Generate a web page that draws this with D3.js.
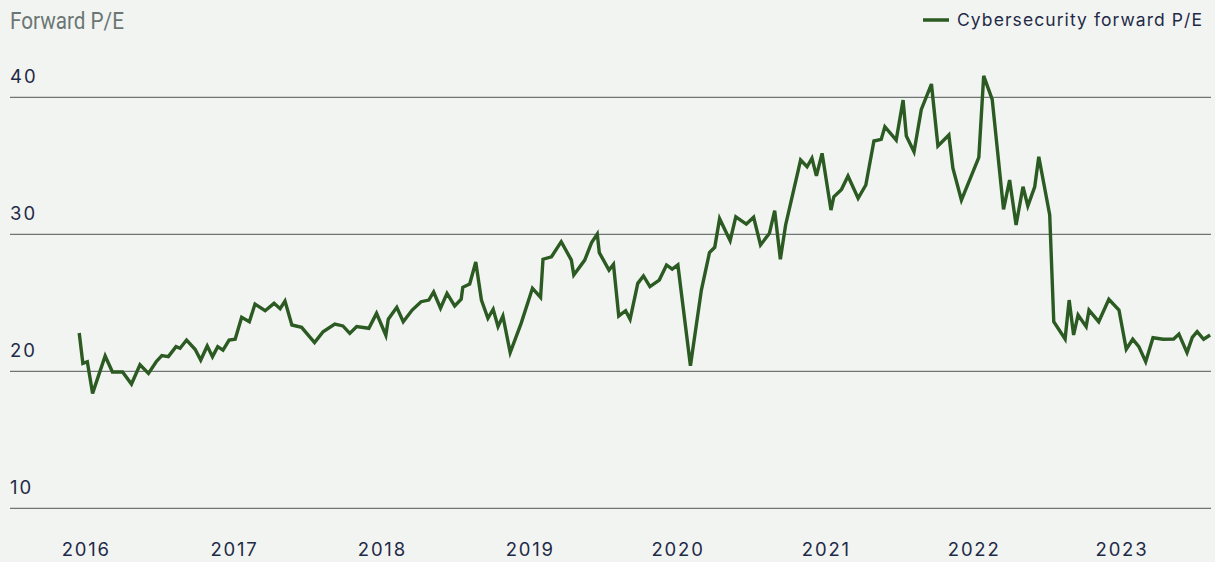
<html lang="en">
<head>
    <meta charset="UTF-8">
    <title>Cybersecurity forward P/E</title>
    <script src="https://d3js.org/d3.v7.min.js"></script>
    <style>
        body {
            margin: 0;
            background-color: #f2f4f1;
        }
        svg {
            display: block;
        }
    </style>
</head>
<body>
    <div id="chart"></div>
    <script>
        var dates = [
            "2015-12-17","2015-12-26","2016-01-06","2016-01-19","2016-02-19","2016-03-08","2016-04-02","2016-04-24",
            "2016-05-15","2016-06-05","2016-06-24","2016-07-08","2016-07-24","2016-08-12","2016-08-22","2016-09-07",
            "2016-09-28","2016-10-12","2016-10-28","2016-11-10","2016-11-23","2016-12-06","2016-12-21","2017-01-05",
            "2017-01-21","2017-02-09","2017-02-23","2017-03-20","2017-04-11","2017-04-26","2017-05-08","2017-05-25",
            "2017-06-18","2017-07-20","2017-08-10","2017-09-08","2017-09-28","2017-10-15","2017-11-01","2017-12-01",
            "2017-12-20","2018-01-12","2018-01-18","2018-02-08","2018-02-24","2018-03-18","2018-04-09","2018-04-28",
            "2018-05-10","2018-05-27","2018-06-12","2018-07-01","2018-07-17","2018-07-21","2018-08-07","2018-08-22",
            "2018-09-05","2018-09-21","2018-10-04","2018-10-16","2018-10-28","2018-11-15","2018-12-12","2019-01-09",
            "2019-01-29","2019-02-04","2019-02-25","2019-03-21","2019-04-15","2019-04-21","2019-05-18","2019-06-04",
            "2019-06-18","2019-06-23","2019-07-17","2019-07-28","2019-08-10","2019-08-27","2019-09-07","2019-09-26",
            "2019-10-10","2019-10-26","2019-11-18","2019-12-06","2019-12-20","2020-01-03","2020-02-03","2020-03-01",
            "2020-03-21","2020-04-03","2020-04-15","2020-05-11","2020-05-25","2020-06-20","2020-07-08","2020-07-25",
            "2020-08-16","2020-08-29","2020-09-12","2020-09-25","2020-10-13","2020-11-01","2020-11-17","2020-11-29",
            "2020-12-10","2020-12-24","2021-01-15","2021-01-22","2021-02-10","2021-02-26","2021-03-23","2021-04-11",
            "2021-05-01","2021-05-19","2021-05-28","2021-06-25","2021-07-12","2021-07-20","2021-08-08","2021-08-26",
            "2021-09-20","2021-10-06","2021-11-02","2021-11-12","2021-12-03","2022-01-15","2022-01-27","2022-02-17",
            "2022-03-17","2022-04-01","2022-04-17","2022-05-04","2022-05-16","2022-06-02","2022-06-12","2022-07-09",
            "2022-07-19","2022-08-16","2022-08-26","2022-09-06","2022-09-17","2022-10-07","2022-10-14","2022-11-07",
            "2022-12-02","2022-12-27","2023-01-14","2023-01-30","2023-02-14","2023-03-03","2023-03-21","2023-04-15",
            "2023-05-11","2023-05-24","2023-06-13","2023-06-26","2023-07-08","2023-07-24","2023-08-09"
        ];
        var forwardPE = [
            22.80,20.58,20.70,18.39,21.12,19.95,19.95,19.07,
            20.48,19.85,20.70,21.14,21.07,21.80,21.68,22.28,
            21.61,20.82,21.85,21.07,21.80,21.55,22.28,22.34,
            23.94,23.62,24.91,24.42,24.96,24.57,25.13,23.38,
            23.21,22.09,22.89,23.45,23.31,22.77,23.26,23.14,
            24.23,22.63,23.80,24.67,23.62,24.47,25.08,25.20,
            25.79,24.60,25.69,24.77,25.26,26.13,26.37,27.98,
            25.20,23.87,24.53,23.26,24.04,21.36,23.50,26.06,
            25.40,28.18,28.36,29.46,28.12,27.03,28.12,29.39,
            30.02,28.66,27.39,27.81,24.04,24.42,23.80,26.42,
            26.96,26.18,26.66,27.76,27.45,27.76,20.41,25.93,
            28.66,29.05,31.14,29.53,31.28,30.75,31.24,29.22,
            30.07,31.72,28.18,30.68,32.99,35.42,34.93,35.55,
            34.26,35.91,31.77,32.74,33.28,34.26,32.63,33.60,
            36.81,36.93,37.85,36.88,39.80,37.18,36.03,39.12,
            40.97,36.45,37.25,34.82,32.50,35.62,41.56,39.85,
            31.82,33.96,30.68,33.47,32.07,33.47,35.66,31.41,
            23.62,22.36,25.20,22.65,24.11,23.26,24.47,23.62,
            25.26,24.47,21.61,22.34,21.80,20.70,22.45,22.34,
            22.36,22.72,21.36,22.48,22.89,22.34,22.65
        ];
        var yTicks = [10, 20, 30, 40];
        var xTickYears = [2016, 2017, 2018, 2019, 2020, 2021, 2022, 2023];
        var seriesName = "Cybersecurity forward P/E";
        var axisTitle = "Forward P/E";

        var width = 1215, height = 562;
        var textColor = "#1f2a48", lineColor = "#2b5a22", gridColor = "#6f7573";
        var labelFont = "Inter, 'Noto Sans', sans-serif";

        var parse = d3.timeParse("%Y-%m-%d");
        var data = dates.map(function(d, i) { return {date: parse(d), value: forwardPE[i]}; });

        var svg = d3.select("#chart")
            .append("svg")
            .attr("width", width)
            .attr("height", height);

        // x scale: year labels sit at 1 January of each year
        var x = d3.scaleTime()
            .domain([new Date(2016, 0, 1), new Date(2023, 0, 1)])
            .range([85.3, 1121]);

        var y = d3.scaleLinear()
            .domain([10, 40])
            .range([508.3, 97.3]);

        // horizontal grid lines
        svg.append("g")
            .selectAll("line")
            .data(yTicks)
            .enter()
            .append("line")
            .attr("x1", 10)
            .attr("x2", 1211)
            .attr("y1", function(d) { return y(d); })
            .attr("y2", function(d) { return y(d); })
            .attr("stroke", gridColor)
            .attr("stroke-width", 1.2);

        // y labels sit above their grid line
        svg.append("g")
            .selectAll("text")
            .data(yTicks)
            .enter()
            .append("text")
            .attr("x", 10)
            .attr("y", function(d) { return y(d) - 14; })
            .attr("fill", textColor)
            .style("font-family", labelFont)
            .style("font-size", "18.5px")
            .style("letter-spacing", "2px")
            .text(function(d) { return d; });

        // x labels
        svg.append("g")
            .selectAll("text")
            .data(xTickYears)
            .enter()
            .append("text")
            .attr("x", function(d) { return x(new Date(d, 0, 1)) + 1; })
            .attr("y", 556)
            .attr("text-anchor", "middle")
            .attr("fill", textColor)
            .style("font-family", labelFont)
            .style("font-size", "18.5px")
            .style("letter-spacing", "1.8px")
            .text(function(d) { return d; });

        // the series
        var line = d3.line()
            .x(function(d) { return x(d.date); })
            .y(function(d) { return y(d.value); });

        svg.append("path")
            .datum(data)
            .attr("fill", "none")
            .attr("stroke", lineColor)
            .attr("stroke-width", 3.4)
            .attr("stroke-linejoin", "miter")
            .attr("d", line);

        // axis title, squeezed to the narrow face of the original
        var title = svg.append("text")
            .attr("fill", "#6b7674")
            .style("font-family", "Roboto, sans-serif")
            .style("font-size", "23.5px")
            .text(axisTitle);
        var titleScale = 114 / title.node().getComputedTextLength();
        title.attr("transform", "translate(10,28.5) scale(" + titleScale + ",1)");

        // legend
        var legend = svg.append("g");
        legend.append("line")
            .attr("x1", 923)
            .attr("x2", 949)
            .attr("y1", 20)
            .attr("y2", 20)
            .attr("stroke", lineColor)
            .attr("stroke-width", 3.5);
        var legendText = legend.append("text")
            .attr("x", 957)
            .attr("y", 25.7)
            .attr("fill", textColor)
            .style("font-family", labelFont)
            .style("font-size", "17.5px")
            .text(seriesName);
        // spread the letters to the width of the original label
        var spread = (245 - legendText.node().getComputedTextLength()) / (seriesName.length - 1);
        legendText.style("letter-spacing", spread + "px");
    </script>
</body>
</html>
